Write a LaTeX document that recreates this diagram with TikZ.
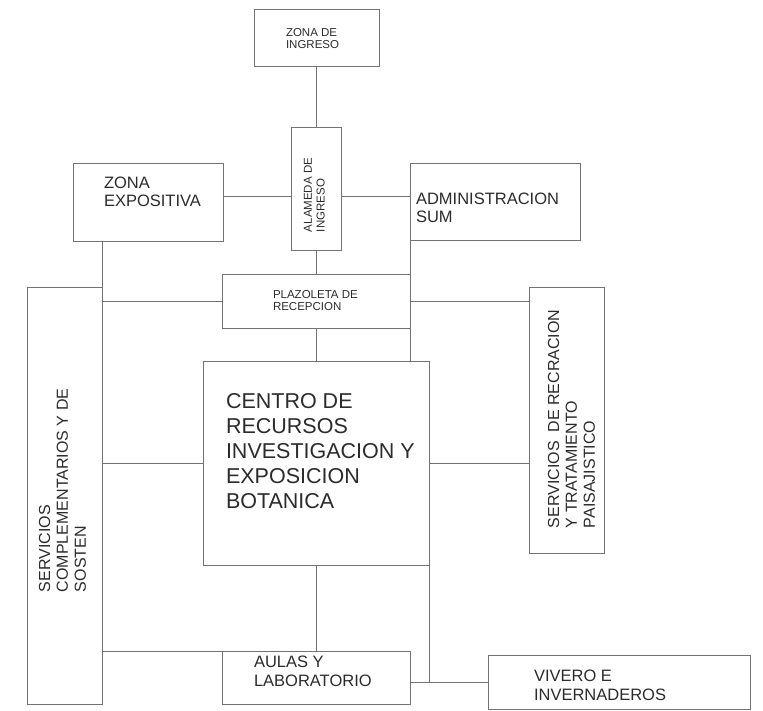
\documentclass[tikz,border=0pt]{standalone}
\usepackage{fontspec}
\setmainfont{Liberation Sans}
\usetikzlibrary{fit}
\definecolor{ln}{gray}{0.45}
\definecolor{tx}{gray}{0.17}
\begin{document}
\begin{tikzpicture}[x=1pt,y=-1pt,
  box/.style={draw=ln,line width=0.9pt,inner sep=0pt,outer sep=0pt,rectangle},
  con/.style={draw=ln,line width=0.9pt},
  lbl/.style={inner sep=0pt,outer sep=0pt,anchor=north west,align=left,text=tx},
  rlbl/.style={lbl,rotate=90},
  fsmall/.style={font=\fontsize{11.5}{12.7}\selectfont},
  fmid/.style={font=\fontsize{16.5}{18.7}\selectfont},
  fside/.style={font=\fontsize{16}{17.8}\selectfont},
  fbig/.style={font=\fontsize{21.5}{25}\selectfont}]
\useasboundingbox (0,0) rectangle (763,710);
% boxes
\node[box,fit={(254,9) (379,66)}] (zi) {};
\node[box,fit={(291.5,127) (341.5,250)}] (al) {};
\node[box,fit={(73,163) (223,241)}] (ze) {};
\node[box,fit={(410,163) (580,240)}] (adm) {};
\node[box,fit={(222,274) (410,328)}] (pl) {};
\node[box,fit={(27,287) (102,704)}] (sc) {};
\node[box,fit={(529,287) (604,553)}] (rec) {};
\node[box,fit={(203,361) (429,565)}] (ce) {};
\node[box,fit={(222,651) (410,704)}] (au) {};
\node[box,fit={(488,655) (750,709)}] (vi) {};
% texts
\node[lbl,fsmall] (tzi) at (286,28) {ZONA DE\\INGRESO};
\node[rlbl,fsmall] (tal) at (304,232) {ALAMEDA DE\\INGRESO};
\node[lbl,fmid] (tze) at (104,176.5) {ZONA\\EXPOSITIVA};
\node[lbl,fmid] (tadm) at (416,192.5) {ADMINISTRACION\\SUM};
\node[lbl,fsmall] (tpl) at (273,290) {PLAZOLETA DE\\RECEPCION};
\node[lbl,fbig] (tce) at (226,393.3) {CENTRO DE\\RECURSOS\\INVESTIGACION Y\\EXPOSICION\\BOTANICA};
\node[rlbl,fside] (tsc) at (39,592) {SERVICIOS\\COMPLEMENTARIOS Y DE\\SOSTEN};
\node[rlbl,fside] (trec) at (548,528) {SERVICIOS\ \ DE RECRACION\\Y TRATAMIENTO\\PAISAJISTICO};
\node[lbl,fmid] (tau) at (254,656) {AULAS Y\\LABORATORIO};
\node[lbl,fmid] (tvi) at (534,670) {VIVERO E\\INVERNADEROS};
% connectors
\coordinate (hy) at (0,196);
\draw[con] (zi.south) -- (al.north);
\draw[con] (ze.east |- hy) -- (al.west |- hy);
\draw[con] (al.east |- hy) -- (adm.west |- hy);
\draw[con] (al.south) -- (al.south |- pl.north);
\draw[con] (adm.south west) -- (pl.north east);
\draw[con] (pl.south east) -- (pl.south east |- ce.north);
\draw[con] (pl.south) -- (ce.north);
\draw[con] (sc.north east |- ze.south) -- (sc.north east);
\draw[con] (pl.west) -- (pl.west -| sc.east);
\draw[con] (pl.east) -- (pl.east -| rec.west);
\draw[con] (ce.west) -- (ce.west -| sc.east);
\draw[con] (ce.east) -- (ce.east -| rec.west);
\draw[con] (ce.south) -- (au.north);
\draw[con] (au.north west) -- (au.north west -| sc.east);
\draw[con] (ce.south east) -- (ce.south east |- vi.west);
\draw[con] (au.east |- vi.west) -- (vi.west);
\end{tikzpicture}
\end{document}
